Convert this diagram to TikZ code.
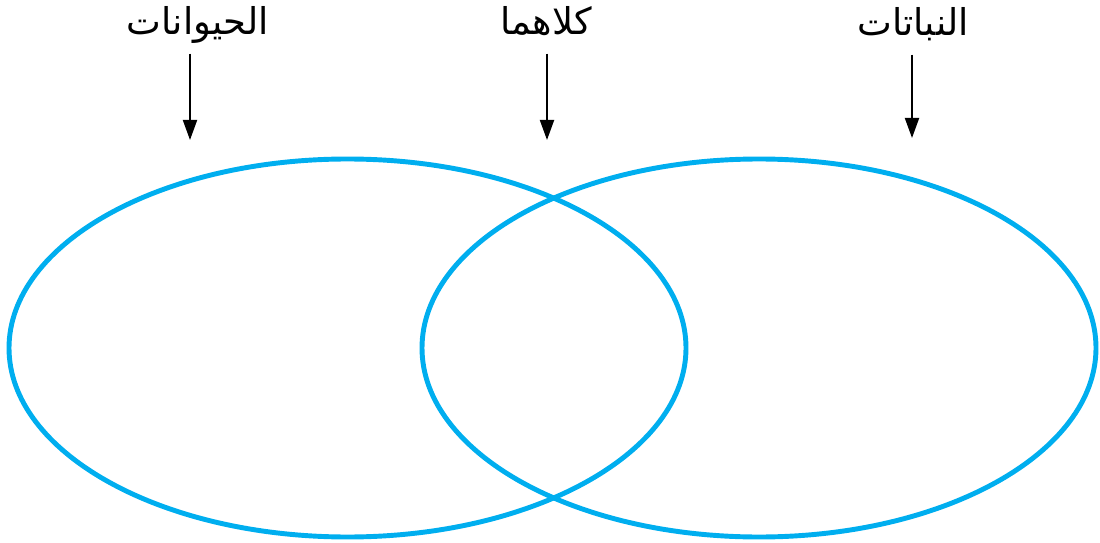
\documentclass[tikz,border=0pt]{standalone}
\usepackage{fontspec}
\newfontfamily\arabicfont[Script=Arabic]{DejaVu Sans}
\TeXXeTstate=1
\usetikzlibrary{arrows.meta}
\definecolor{vennblue}{HTML}{00AEEF}

\begin{document}
\begin{tikzpicture}[every node/.style={font=\arabicfont\fontsize{10.5}{12}\selectfont,
    inner sep=0pt,text depth=0.16cm}]
    \useasboundingbox (0,0) rectangle (11,-5.43);
    % the two sets
    \draw[vennblue,line width=1.4pt] (3.475,-3.48) ellipse (3.385 and 1.89);
    \draw[vennblue,line width=1.4pt] (7.59,-3.48) ellipse (3.37 and 1.89);
    % labels on top
    \node[anchor=base] (animals) at (1.98,-0.35) {\beginR الحيوانات\endR};
    \node[anchor=base] (both) at (5.46,-0.35) {\beginR كلاهما\endR};
    \node[anchor=base] (plants) at (9.13,-0.36) {\beginR النباتات\endR};
    % where the arrows point
    \coordinate (animalsin) at (1.90,-1.40);
    \coordinate (bothin) at (5.47,-1.40);
    \coordinate (plantsin) at (9.12,-1.38);
    \foreach \lbl in {animals,both,plants}
      \draw[-{Triangle[width=1.4mm,length=2mm]},line width=0.55pt]
        (\lbl.south -| \lbl in) ++(0,-0.02) -- (\lbl in);
  \end{tikzpicture}
\end{document}
